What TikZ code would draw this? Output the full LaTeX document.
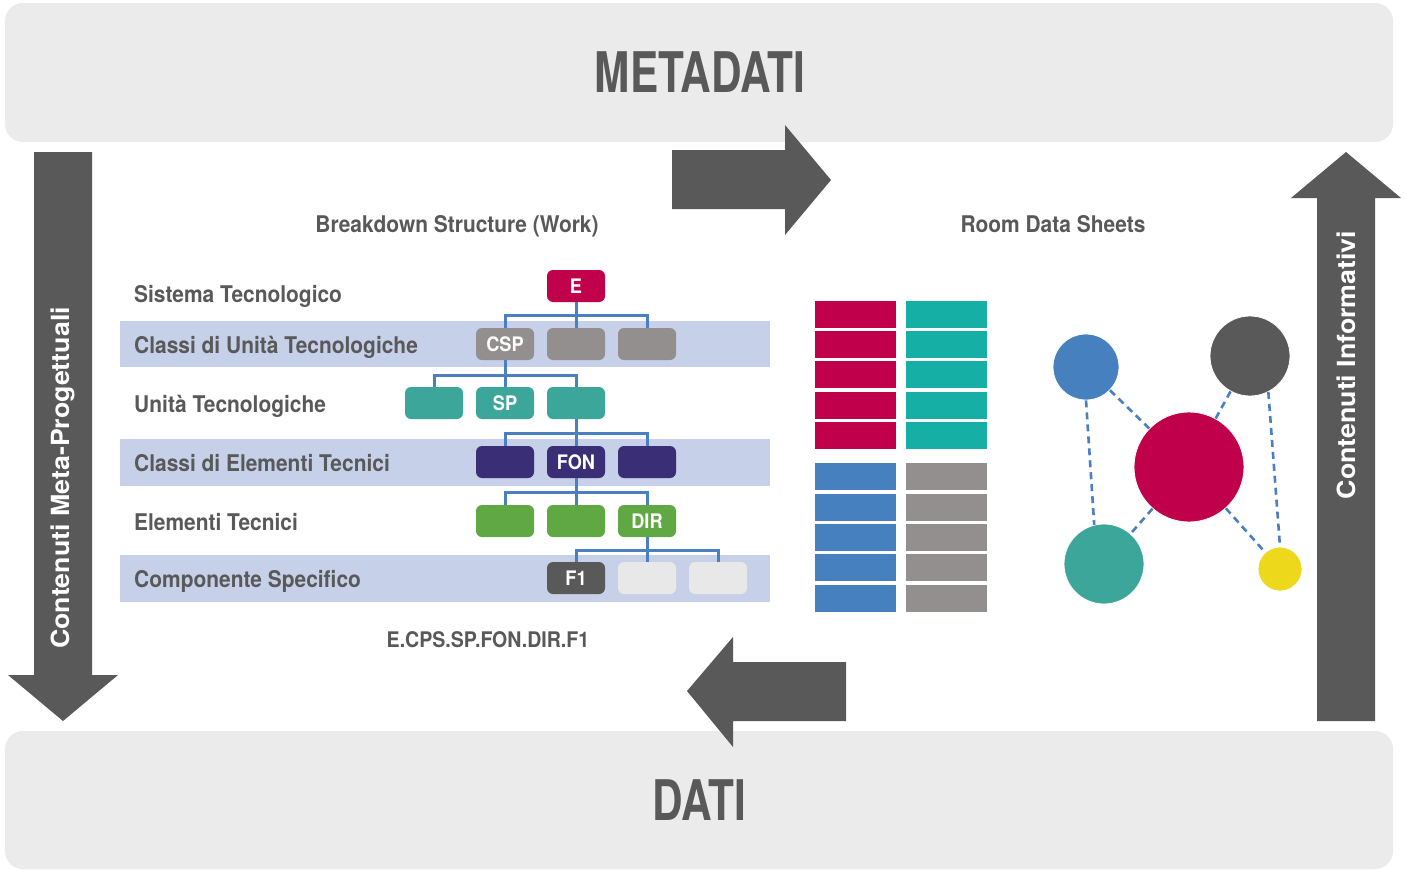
\documentclass[tikz,border=0pt]{standalone}
\usepackage{fontspec}
\setmainfont{TeX Gyre Heros}
% condensed bold faces for the labels and titles
\newfontfamily\condfont{TeX Gyre Heros}[FakeStretch=0.91]
\newfontfamily\titlefont{TeX Gyre Heros}[FakeStretch=0.756]
\newfontfamily\sidefont{TeX Gyre Heros}[FakeStretch=1.07]
\definecolor{panel}{HTML}{EBEBEB}
\definecolor{ink}{HTML}{595959}
\definecolor{crimson}{HTML}{C0004A}
\definecolor{tealbox}{HTML}{3DA69B}
\definecolor{tealsheet}{HTML}{16AFA5}
\definecolor{purple}{HTML}{3A2E77}
\definecolor{leaf}{HTML}{5FA843}
\definecolor{stone}{HTML}{938F8E}
\definecolor{pale}{HTML}{E8E8E8}
\definecolor{band}{HTML}{C6D0E8}
\definecolor{link}{HTML}{4A7FC1}
\definecolor{sheetblue}{HTML}{4680BE}
\definecolor{sun}{HTML}{EDD81C}
\begin{document}
\begin{tikzpicture}[x=1pt,y=-1pt,
  tbox/.style={rounded corners=6pt, minimum width=58pt, minimum height=32pt,
    inner sep=0pt, text=white, font=\condfont\bfseries\fontsize{20}{22}\selectfont},
  tree/.style={draw=link, line width=3pt},
  rowlabel/.style={anchor=base west, text=ink, inner sep=0pt,
    font=\condfont\bfseries\fontsize{23}{26}\selectfont},
  heading/.style={anchor=base, text=ink, inner sep=0pt,
    font=\condfont\bfseries\fontsize{23}{25}\selectfont},
  big/.style={anchor=base, text=ink, inner sep=0pt,
    font=\titlefont\bfseries\fontsize{56}{60}\selectfont},
  side/.style={rotate=90, text=white, inner sep=0pt,
    font=\sidefont\bfseries\fontsize{25}{28}\selectfont},
  dot/.style={circle, inner sep=0pt, draw=white, line width=0.8pt},
  relation/.style={draw=link, line width=2.6pt, dash pattern=on 7pt off 5pt},
  sheet/.style={inner sep=0pt, minimum width=81pt, minimum height=27pt}]

\useasboundingbox (0,0) rectangle (1406,870);
\fill[white] (0,0) rectangle (1406,870);

% top and bottom panels
\fill[panel, rounded corners=18pt] (5,3) rectangle (1393,142);
\fill[panel, rounded corners=18pt] (5,731) rectangle (1393,869);
\node[big] (meta) at (700,92) {METADATI};
\node[big] (dati) at (699,820) {DATI};

% side arrows
\fill[ink] (34,152) -- (92,152) -- (92,675) -- (118,675) -- (63,721)
  -- (8,675) -- (34,675) -- cycle;
\node[side] (metaprog) at (63,478) {Contenuti Meta-Progettuali};
\fill[ink] (1317,721) -- (1375,721) -- (1375,198) -- (1401,198) -- (1346,152)
  -- (1291,198) -- (1317,198) -- cycle;
\node[side] (info) at (1346,365) {Contenuti Informativi};

% horizontal arrows
\fill[ink] (672,150) -- (785,150) -- (785,125) -- (831,180) -- (785,235)
  -- (785,209) -- (672,209) -- cycle;
\fill[ink] (846,662) -- (733,662) -- (733,637) -- (687,691) -- (733,747)
  -- (733,721) -- (846,721) -- cycle;

% headings
\node[heading] (bs) at (457,232) {Breakdown Structure (Work)};
\node[heading] (rds) at (1053,232) {Room Data Sheets};

% level bands
\fill[band] (120,321) rectangle (770,367);
\fill[band] (120,439) rectangle (770,486);
\fill[band] (120,555) rectangle (770,602);

% level labels
\node[rowlabel] (l1) at (134,302) {Sistema Tecnologico};
\node[rowlabel] (l2) at (134,353) {Classi di Unità Tecnologiche};
\node[rowlabel] (l3) at (134,412) {Unità Tecnologiche};
\node[rowlabel] (l4) at (134,471) {Classi di Elementi Tecnici};
\node[rowlabel] (l5) at (134,530) {Elementi Tecnici};
\node[rowlabel] (l6) at (134,587) {Componente Specifico};

% breakdown tree
\node[tbox, fill=crimson] (E) at (576,286) {E};
\node[tbox, fill=stone] (c1) at (505,344) {CSP};
\node[tbox, fill=stone] (c2) at (576,344) {};
\node[tbox, fill=stone] (c3) at (647,344) {};
\node[tbox, fill=tealbox] (u1) at (434,403) {};
\node[tbox, fill=tealbox] (u2) at (505,403) {SP};
\node[tbox, fill=tealbox] (u3) at (576,403) {};
\node[tbox, fill=purple] (k1) at (505,462) {};
\node[tbox, fill=purple] (k2) at (576,462) {FON};
\node[tbox, fill=purple] (k3) at (647,462) {};
\node[tbox, fill=leaf] (t1) at (505,521) {};
\node[tbox, fill=leaf] (t2) at (576,521) {};
\node[tbox, fill=leaf] (t3) at (647,521) {DIR};
\node[tbox, fill=ink] (f1) at (576,578) {F1};
\node[tbox, fill=pale] (f2) at (647,578) {};
\node[tbox, fill=pale] (f3) at (718,578) {};

\coordinate (j1) at (576,315);
\coordinate (j2) at (505,375);
\coordinate (j3) at (576,433);
\coordinate (j4) at (576,492);
\coordinate (j5) at (647,550);
\draw[tree] (E.south) -- (j1) -- (c2.north);
\draw[tree] (c1.north) |- (j1) -| (c3.north);
\draw[tree] (c1.south) -- (j2) -- (u2.north);
\draw[tree] (u1.north) |- (j2) -| (u3.north);
\draw[tree] (u3.south) -- (j3) -- (k2.north);
\draw[tree] (k1.north) |- (j3) -| (k3.north);
\draw[tree] (k2.south) -- (j4) -- (t2.north);
\draw[tree] (t1.north) |- (j4) -| (t3.north);
\draw[tree] (t3.south) -- (j5) -- (f2.north);
\draw[tree] (f1.north) |- (j5) -| (f3.north);

\node[anchor=base, text=ink, inner sep=0pt,
  font=\condfont\bfseries\fontsize{21.5}{24}\selectfont] (code) at (488,647)
  {E.CPS.SP.FON.DIR.F1};

% room data sheets
\foreach \y in {314.5,344.5,374.5,405.5,435.5} {
  \node[sheet, fill=crimson] at (855.5,\y) {};
  \node[sheet, fill=tealsheet] at (946.5,\y) {};
}
\foreach \y in {476.5,507.5,537.5,567.5,598.5} {
  \node[sheet, fill=sheetblue] at (855.5,\y) {};
  \node[sheet, fill=stone] at (946.5,\y) {};
}

% relation graph
\node[dot, fill=sheetblue, minimum size=66pt] (nb) at (1086,367) {};
\node[dot, fill=ink, minimum size=80pt] (ng) at (1250,356) {};
\node[dot, fill=crimson, minimum size=110pt] (nc) at (1189,467) {};
\node[dot, fill=tealbox, minimum size=80pt] (nt) at (1104,564) {};
\node[dot, fill=sun, minimum size=44pt] (ny) at (1280,569) {};
\draw[relation] (nb) -- (nc);
\draw[relation] (ng) -- (nc);
\draw[relation] (nc) -- (nt);
\draw[relation] (nc) -- (ny);
\draw[relation] (nb.-90) -- (nt.104);
\draw[relation] (ng.-63) -- (ny.90);
\end{tikzpicture}
\end{document}
